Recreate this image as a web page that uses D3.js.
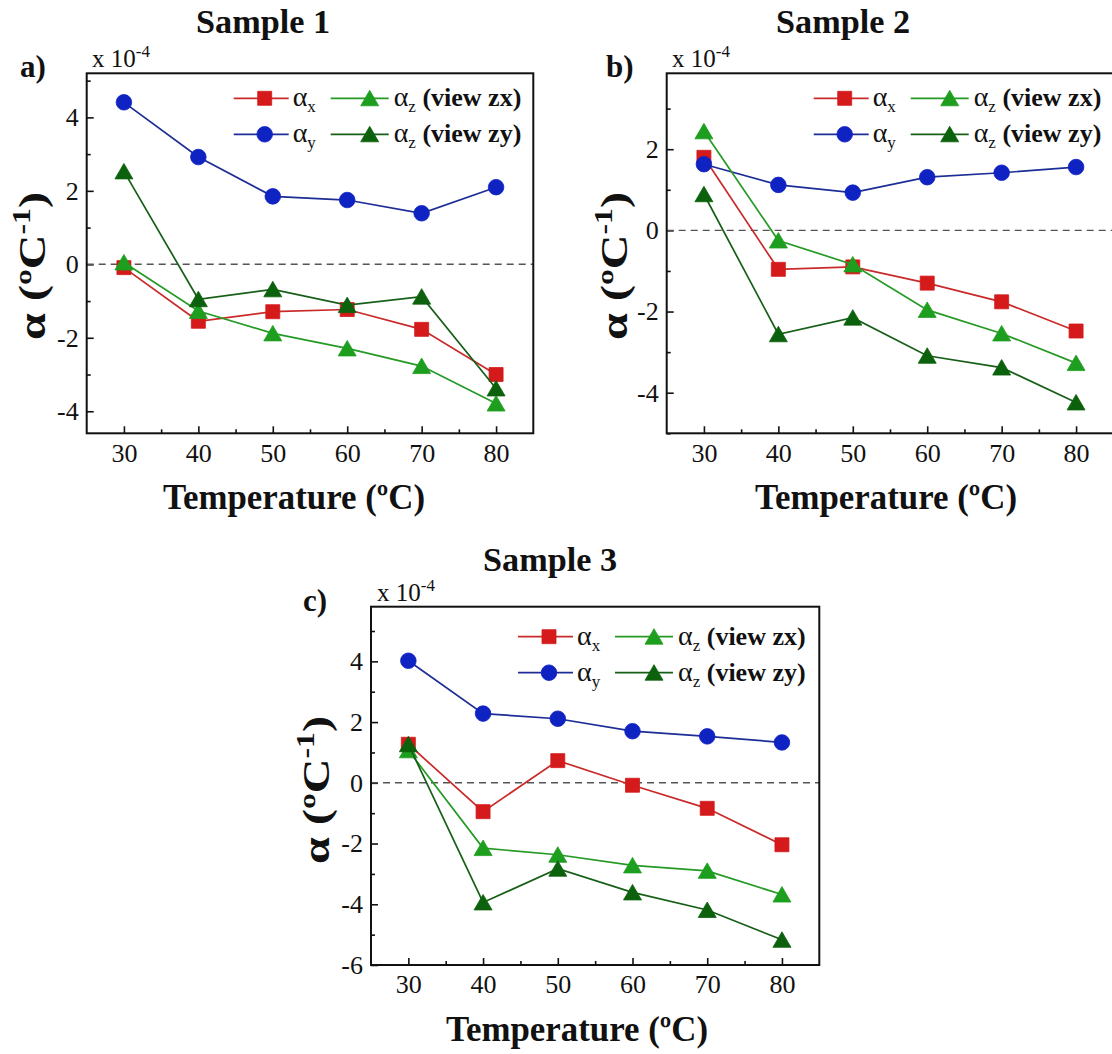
<!DOCTYPE html>
<html>
<head>
<meta charset="utf-8">
<script src="https://cdn.jsdelivr.net/npm/d3@7"></script>
<style>
  html, body { margin: 0; padding: 0; background: #fff; }
  svg { display: block; }
  text { font-family: "Liberation Serif", "Times New Roman", serif; fill: #111; }
</style>
</head>
<body>
<svg id="chart" width="1112" height="1054"></svg>
<script>
// Temperatures (ºC) shared by all three samples
const temps = [30, 40, 50, 60, 70, 80];
const xTicks = [30, 40, 50, 60, 70, 80];

// Thermal expansion coefficients, units of 1e-4 ºC^-1
// Sample 1
const s1_ax  = [-0.09, -1.55, -1.29, -1.23, -1.77, -3.00];
const s1_ay  = [4.41, 2.92, 1.85, 1.75, 1.39, 2.10];
const s1_azx = [0.05, -1.27, -1.88, -2.29, -2.77, -3.79];
const s1_azy = [2.53, -0.95, -0.68, -1.11, -0.88, -3.38];
// Sample 2
const s2_ax  = [1.80, -0.96, -0.90, -1.30, -1.76, -2.48];
const s2_ay  = [1.63, 1.12, 0.93, 1.31, 1.42, 1.56];
const s2_azx = [2.44, -0.25, -0.84, -1.96, -2.54, -3.27];
const s2_azy = [0.89, -2.56, -2.15, -3.09, -3.38, -4.24];
// Sample 3
const s3_ax  = [1.27, -0.95, 0.73, -0.08, -0.84, -2.04];
const s3_ay  = [4.02, 2.28, 2.11, 1.70, 1.53, 1.33];
const s3_azx = [1.07, -2.15, -2.37, -2.72, -2.90, -3.68];
const s3_azy = [1.27, -3.94, -2.83, -3.61, -4.19, -5.17];

const yTicks1 = [-4, -2, 0, 2, 4];
const yTicks2 = [-4, -2, 0, 2];
const yTicks3 = [-6, -4, -2, 0, 2, 4];

const titles = ["Sample 1", "Sample 2", "Sample 3"];
const panelTags = ["a)", "b)", "c)"];

// series styling: subscript, suffix text, colours, marker kind
const seriesStyle = [
  { sub: "x", rest: "",            line: "#c92a2a", fill: "#d41a1a", marker: "square" },
  { sub: "y", rest: "",            line: "#1d2d96", fill: "#0f22c2", marker: "circle" },
  { sub: "z", rest: " (view zx)",  line: "#259a25", fill: "#1e9e1e", marker: "triangle" },
  { sub: "z", rest: " (view zy)",  line: "#175f17", fill: "#0c610c", marker: "triangle" }
];

const svg = d3.select("#chart");

function markerPath(kind) {
  if (kind === "square") return "M-7,-7H7V7H-7Z";
  if (kind === "circle") return d3.arc()({innerRadius: 0, outerRadius: 7.8, startAngle: 0, endAngle: 2 * Math.PI});
  return "M0,-8L9,7.5L-9,7.5Z";
}

function fmt(v) { return (v < 0 ? "-" : "") + Math.abs(v); }

function drawPanel(p) {
  const g = svg.append("g");
  const x = d3.scaleLinear().domain([25, 85]).range([p.L, p.L + p.W]);
  const y = d3.scaleLinear().domain(p.yDom).range([p.T + p.H, p.T]);

  // bottom axis, ticks pointing inward
  const xAxis = d3.axisBottom(x).tickValues(xTicks).tickSize(-7).tickPadding(10).tickFormat(d3.format("d"));
  const gx = g.append("g").attr("transform", `translate(0,${p.T + p.H})`).call(xAxis);
  const xMinor = d3.axisBottom(x).tickValues([35, 45, 55, 65, 75]).tickSize(-4).tickFormat("");
  const gxm = g.append("g").attr("transform", `translate(0,${p.T + p.H})`).call(xMinor);

  // left axis
  const yAxis = d3.axisLeft(y).tickValues(p.yTicks).tickSize(-7).tickPadding(8).tickFormat(fmt);
  const gy = g.append("g").attr("transform", `translate(${p.L},0)`).call(yAxis);
  const minors = d3.range(Math.ceil(p.yDom[0]), Math.floor(p.yDom[1]) + 1).filter(v => Math.abs(v % 2) === 1);
  const yMinor = d3.axisLeft(y).tickValues(minors).tickSize(-4).tickFormat("");
  const gym = g.append("g").attr("transform", `translate(${p.L},0)`).call(yMinor);

  [gx, gxm, gy, gym].forEach(a => {
    a.select(".domain").remove();
    a.selectAll("line").attr("stroke", "#111").attr("stroke-width", 1.6);
  });
  gx.selectAll("text").attr("font-size", 26).attr("font-family", "Liberation Serif").attr("fill", "#222");
  gy.selectAll("text").attr("font-size", 26).attr("font-family", "Liberation Serif").attr("fill", "#222");

  // zero reference line
  g.append("line")
    .attr("x1", p.L).attr("x2", p.L + p.W)
    .attr("y1", y(0)).attr("y2", y(0))
    .attr("stroke", "#555").attr("stroke-width", 1.4).attr("stroke-dasharray", "7,5");

  // frame
  g.append("rect").attr("x", p.L).attr("y", p.T).attr("width", p.W).attr("height", p.H)
    .attr("fill", "none").attr("stroke", "#111").attr("stroke-width", 2);

  // series
  const line = d3.line().x((d, i) => x(temps[i])).y(d => y(d));
  p.series.forEach((vals, k) => {
    const st = seriesStyle[k];
    g.append("path").attr("d", line(vals)).attr("fill", "none")
      .attr("stroke", st.line).attr("stroke-width", 1.7);
    g.selectAll(null).data(vals).enter().append("path")
      .attr("d", markerPath(st.marker))
      .attr("transform", (d, i) => `translate(${x(temps[i])},${y(d)})`)
      .attr("fill", st.fill).attr("stroke", st.fill).attr("stroke-width", 0.8);
  });

  // legend
  const leg = g.append("g");
  const cols = [{lx0: 147, lx1: 202, mx: 178, tx: 206}, {lx0: 244, lx1: 302, mx: 283, tx: 307}];
  seriesStyle.forEach((st, k) => {
    const c = cols[k >= 2 ? 1 : 0];
    const row = k % 2;
    const ly = p.T + p.legTop + row * 36;
    leg.append("line").attr("x1", p.L + c.lx0).attr("x2", p.L + c.lx1).attr("y1", ly).attr("y2", ly)
      .attr("stroke", st.line).attr("stroke-width", 1.7);
    leg.append("path").attr("d", markerPath(st.marker))
      .attr("transform", `translate(${p.L + c.mx},${ly})`)
      .attr("fill", st.fill).attr("stroke", st.fill).attr("stroke-width", 0.8);
    const t = leg.append("text").attr("x", p.L + c.tx).attr("y", ly + 8).attr("font-size", 28);
    t.append("tspan").text("α");
    t.append("tspan").attr("font-size", 17).attr("dy", 6).text(st.sub);
    if (st.rest) t.append("tspan").attr("dy", -6).attr("font-weight", "bold").attr("font-size", 26).text(st.rest);
  });

  // scale factor label
  const sf = g.append("text").attr("x", p.sfX).attr("y", p.T - 6).attr("font-size", 25).attr("fill", "#333");
  sf.append("tspan").text("x 10");
  sf.append("tspan").attr("font-size", 17).attr("dy", -10).text("-4");

  // panel tag and title
  g.append("text").attr("x", p.tagX).attr("y", p.T + 4).attr("font-size", 31).attr("font-weight", "bold").text(p.tag);
  g.append("text").attr("x", p.titleX).attr("y", p.titleY).attr("text-anchor", "middle")
    .attr("font-size", 33).attr("font-weight", "bold").attr("textLength", 134).attr("lengthAdjust", "spacingAndGlyphs")
    .text(p.title);

  // axis titles
  g.append("text").attr("x", p.xtX).attr("y", p.xtY).attr("text-anchor", "middle")
    .attr("font-size", 35).attr("font-weight", "bold").attr("textLength", 262).attr("lengthAdjust", "spacingAndGlyphs")
    .text("Temperature (ºC)");
  const yt = g.append("text").attr("transform", `translate(${p.ytX},${p.ytY}) rotate(-90)`)
    .attr("text-anchor", "middle").attr("font-size", 38).attr("font-weight", "bold")
    .attr("textLength", 148).attr("lengthAdjust", "spacingAndGlyphs");
  yt.append("tspan").text("α (ºC");
  yt.append("tspan").attr("font-size", 25).attr("dy", -15).text("-1");
  yt.append("tspan").attr("dy", 15).text(")");
}

drawPanel({ L: 86.7, T: 73.3, W: 446.6, H: 360, yDom: [-4.6, 5.2], yTicks: yTicks1,
  series: [s1_ax, s1_ay, s1_azx, s1_azy], legTop: 25,
  sfX: 92, tagX: 20, tag: panelTags[0], title: titles[0], titleX: 263, titleY: 33,
  xtX: 294, xtY: 509, ytX: 45, ytY: 266 });

drawPanel({ L: 666.7, T: 73.3, W: 446.6, H: 360, yDom: [-5, 3.87], yTicks: yTicks2,
  series: [s2_ax, s2_ay, s2_azx, s2_azy], legTop: 25,
  sfX: 672, tagX: 606, tag: panelTags[1], title: titles[1], titleX: 843, titleY: 33,
  xtX: 886, xtY: 509, ytX: 627, ytY: 266 });

drawPanel({ L: 371, T: 606.7, W: 448.3, H: 358.3, yDom: [-6, 5.8], yTicks: yTicks3,
  series: [s3_ax, s3_ay, s3_azx, s3_azy], legTop: 30,
  sfX: 377, tagX: 303, tag: panelTags[2], title: titles[2], titleX: 550, titleY: 571,
  xtX: 577, xtY: 1041, ytX: 329, ytY: 790 });
</script>
</body>
</html>
